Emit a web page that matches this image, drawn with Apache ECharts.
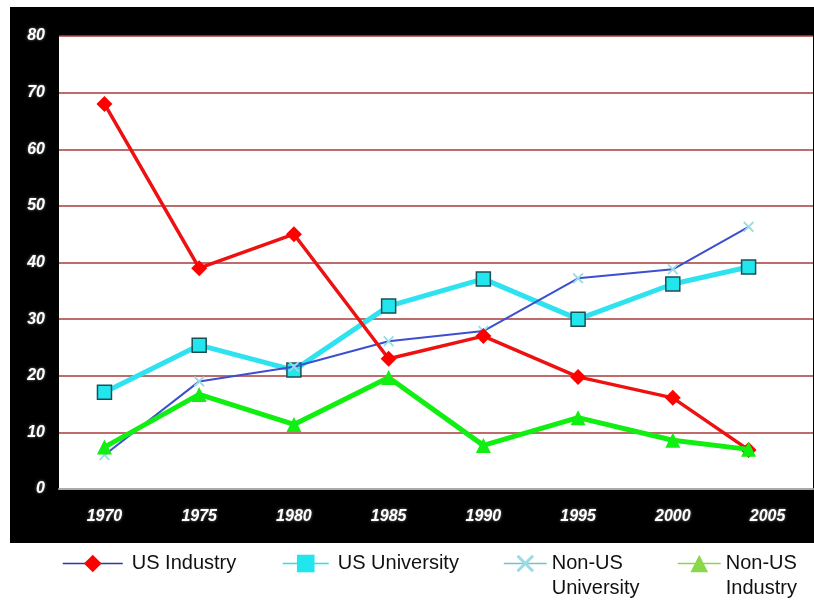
<!DOCTYPE html>
<html>
<head>
<meta charset="utf-8">
<script src="https://cdn.jsdelivr.net/npm/echarts@6/dist/echarts.min.js"></script>
<style>
html,body{margin:0;padding:0;background:#fff;}
#chart{width:814px;height:602px;}
</style>
</head>
<body>
<div id="chart"></div>
<script>
var years = [1970, 1975, 1980, 1985, 1990, 1995, 2000, 2004];
var xTickLabels = [1970, 1975, 1980, 1985, 1990, 1995, 2000, 2005];
var usIndustry = [68, 39, 45, 23, 27, 19.8, 16.1, 6.9];
var usUniversity = [17.1, 25.4, 21, 32.3, 37.1, 30, 36.2, 39.2];
var nonUsUniversity = [6, 19, 21.6, 26.1, 27.9, 37.2, 38.8, 46.3];
var nonUsIndustry = [7.4, 16.7, 11.4, 19.7, 7.7, 12.6, 8.6, 7];

function pairs(vals){ return years.map(function(y,i){ return [y, vals[i]]; }); }

var xPath = 'path://M0,1.2L1.2,0L5,3.8L8.8,0L10,1.2L6.2,5L10,8.8L8.8,10L5,6.2L1.2,10L0,8.8L3.8,5Z';
var FONT = '"Liberation Sans", Arial, sans-serif';

var chart = echarts.init(document.getElementById('chart'));
var legendText = {color:'#111', fontSize:20, fontFamily:FONT, lineHeight:25,
  rich:{a:{color:'#111', fontSize:20, fontFamily:FONT, lineHeight:25, padding:[0,0,0,4]}}};
chart.setOption({
  animation:false,
  graphic:[{type:'rect', z:-100, silent:true, shape:{x:10,y:7,width:804,height:536}, style:{fill:'#000'}}],
  grid:{left:59, right:1, top:36, bottom:113, show:true, backgroundColor:'#fff', borderWidth:0},
  xAxis:{type:'value', min:1967.6, max:2007.4,
    axisLine:{show:true, lineStyle:{color:'#aaa', width:2}},
    axisTick:{show:false}, splitLine:{show:false},
    axisLabel:{customValues:xTickLabels, color:'#fff', fontWeight:'bold', fontStyle:'italic', fontSize:16, fontFamily:FONT, margin:20,
      textShadowColor:'rgba(150,150,150,0.9)', textShadowBlur:3, formatter:function(v){return String(v);}}
  },
  yAxis:{type:'value', min:0, max:80, interval:10,
    axisLine:{show:false}, axisTick:{show:false},
    splitLine:{show:true, lineStyle:{color:'#a83a3a', width:1.5}},
    axisLabel:{color:'#fff', fontWeight:'bold', fontStyle:'italic', fontSize:16, fontFamily:FONT, margin:14,
      textShadowColor:'rgba(150,150,150,0.9)', textShadowBlur:3}
  },
  legend:[
    {left:62, top:551, padding:0, itemWidth:60, itemHeight:22, itemGap:0, textStyle:legendText,
      formatter:function(n){return '{a|' + n + '}';},
      data:[{name:'US Industry', itemStyle:{color:'#ff0000', borderWidth:0}, lineStyle:{color:'#3333aa', width:1.5}}]},
    {left:282, top:551, padding:0, itemWidth:46, itemHeight:22, itemGap:0, textStyle:legendText,
      formatter:function(n){return '{a|' + n + '}';},
      data:[{name:'US University', itemStyle:{color:'#22e6ee', borderWidth:0}, lineStyle:{color:'#22e6ee', width:1.5}}]},
    {left:503, top:526, padding:0, itemWidth:43, itemHeight:22, itemGap:0, textStyle:legendText,
      formatter:function(){return '\nNon-US\nUniversity';},
      data:[{name:'Non-US University', itemStyle:{color:'#9adbe6', borderWidth:0}, lineStyle:{color:'#70c4cc', width:1.5}}]},
    {left:677, top:526, padding:0, itemWidth:43, itemHeight:22, itemGap:0, textStyle:legendText,
      formatter:function(){return '\nNon-US\nIndustry';},
      data:[{name:'Non-US Industry', itemStyle:{color:'#88d848', borderWidth:0}, lineStyle:{color:'#88d848', width:1.5}}]}
  ],
  series:[
    {name:'US University', type:'line', z:2, data:pairs(usUniversity), symbol:'rect', symbolSize:14,
      lineStyle:{color:'#2ee3ef', width:5}, itemStyle:{color:'#22e6ee', borderColor:'#1b4f55', borderWidth:1.5}},
    {name:'Non-US University', type:'line', z:3, data:pairs(nonUsUniversity), symbol:xPath, symbolSize:11,
      lineStyle:{color:'#3b4fcf', width:2}, itemStyle:{color:'#9adbe6', borderWidth:0}},
    {name:'US Industry', type:'line', z:4, data:pairs(usIndustry), symbol:'diamond', symbolSize:16,
      lineStyle:{color:'#ee1111', width:3.5}, itemStyle:{color:'#ff0000', borderWidth:0}},
    {name:'Non-US Industry', type:'line', z:5, data:pairs(nonUsIndustry), symbol:'triangle', symbolSize:15,
      lineStyle:{color:'#11ee11', width:5}, itemStyle:{color:'#11ee11', borderWidth:0}}
  ]
});
</script>
</body>
</html>
